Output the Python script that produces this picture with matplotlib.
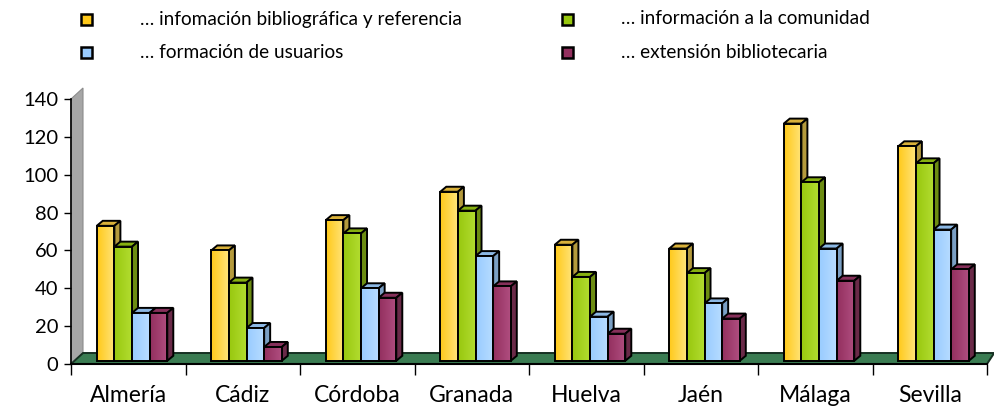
import numpy as np
import matplotlib.pyplot as plt
from matplotlib.patches import Polygon, Rectangle
from matplotlib.colors import LinearSegmentedColormap

plt.rcParams['font.family'] = ['Lato', 'DejaVu Sans']

provincias = ['Almería', 'Cádiz', 'Córdoba', 'Granada', 'Huelva', 'Jaén', 'Málaga', 'Sevilla']
series = ['… infomación bibliográfica y referencia', '… información a la comunidad',
          '… formación de usuarios', '… extensión bibliotecaria']
v_biblio = [73, 60, 76, 91, 63, 61, 127, 115]
v_comunidad = [62, 43, 69, 81, 46, 48, 96, 106]
v_formacion = [27, 19, 40, 57, 25, 32, 61, 71]
v_extension = [27, 9, 35, 41, 16, 24, 44, 50]
yticks = [0, 20, 40, 60, 80, 100, 120, 140]

valores = [v_biblio, v_comunidad, v_formacion, v_extension]
# (front dark, front light, side, top)
colores = [('#ffc91a', '#ffe47a', '#b49a3c', '#d9b13a'),
           ('#98c80f', '#b2dc30', '#6c8c12', '#86b010'),
           ('#99ccff', '#b8dcff', '#7a9fc4', '#8cb8e4'),
           ('#93305f', '#b04e80', '#6a2a48', '#86305a')]

W, H = 994, 409
fig = plt.figure(figsize=(W / 100, H / 100), dpi=100)
ax_l, ax_r, ax_t, ax_b = 71, 987, 99, 364
ax = fig.add_axes([ax_l / W, (H - ax_b) / H, (ax_r - ax_l) / W, (ax_b - ax_t) / H])
ymax = 140
ncat = len(provincias)
px_x = (ax_r - ax_l) / ncat      # pixels per category
px_y = (ax_b - ax_t) / ymax      # pixels per unit

# depth offsets in data units
bdx, bdy = 6 / px_x, 5 / px_y     # bars
fdx, fdy = 12 / px_x, 11 / px_y   # floor / wall

# wall
wall = Polygon([(0, 0), (fdx, fdy), (fdx, ymax + fdy), (0, ymax)], closed=True,
               facecolor='#a6a6a6', edgecolor='#8c8c8c', lw=0.8, clip_on=False, zorder=1)
ax.add_patch(wall)
# floor
floor = Polygon([(0, 0), (ncat, 0), (ncat + 0.6 * fdx, fdy), (fdx, fdy)], closed=True,
                facecolor='#3a7c52', edgecolor='#163022', lw=1.4, clip_on=False, zorder=2)
ax.add_patch(floor)

bw = 0.154
off = 0.225
base = 1.7
z = 3
for i in range(ncat):
    for s in range(4):
        v = valores[s][i]
        c_dark, c_light, c_side, c_top = colores[s]
        x0 = i + off + s * bw
        x1 = x0 + bw
        top = Polygon([(x0, v), (x1, v), (x1 + bdx, v + bdy), (x0 + bdx, v + bdy)],
                      closed=True, facecolor=c_top, edgecolor='black', lw=1.4, zorder=z)
        side = Polygon([(x1, base), (x1 + bdx, base + bdy), (x1 + bdx, v + bdy), (x1, v)],
                       closed=True, facecolor=c_side, edgecolor='black', lw=1.4, zorder=z)
        ax.add_patch(top)
        ax.add_patch(side)
        cmap = LinearSegmentedColormap.from_list('g', [c_dark, c_light])
        ax.imshow(np.linspace(0, 1, 32).reshape(1, -1), cmap=cmap, aspect='auto',
                  extent=[x0, x1, base, v], zorder=z + 0.5, interpolation='bilinear')
        ax.add_patch(Rectangle((x0, base), bw, v - base, facecolor='none',
                               edgecolor='black', lw=1.4, zorder=z + 0.6))
        z += 1

ax.set_xlim(0, ncat)
ax.set_ylim(0, ymax)
ax.set_yticks(yticks)
ax.set_xticks(np.arange(ncat + 1))
ax.set_xticklabels([])
ax.set_xticks(np.arange(ncat) + 0.5, minor=True)
ax.set_xticklabels(provincias, minor=True)
ax.tick_params(axis='x', which='minor', length=0, pad=15, labelsize=16.5)
ax.tick_params(axis='x', which='major', length=8, width=1, direction='out')
ax.tick_params(axis='y', length=5, width=1, direction='out', labelsize=14.5, pad=4)
for sp in ['top', 'right']:
    ax.spines[sp].set_visible(False)
ax.spines['left'].set_linewidth(1.2)
ax.spines['bottom'].set_linewidth(1.5)
ax.spines['left'].set_zorder(100)
ax.spines['bottom'].set_zorder(100)
ax.patch.set_visible(False)

# legend
leg_pos = [(86, 19), (567, 19), (86, 52), (567, 52)]
for s in range(4):
    cx, cy = leg_pos[s]
    fig.patches.append(Rectangle(((cx - 5.5) / W, (H - cy - 5.5) / H), 11 / W, 11 / H,
                                 facecolor=colores[s][0], edgecolor='black', lw=1.8,
                                 transform=fig.transFigure, figure=fig))
    fig.text((cx + 54) / W, (H - cy) / H, series[s], fontsize=13.7, va='center', ha='left')

fig.savefig('out.png', dpi=100)
